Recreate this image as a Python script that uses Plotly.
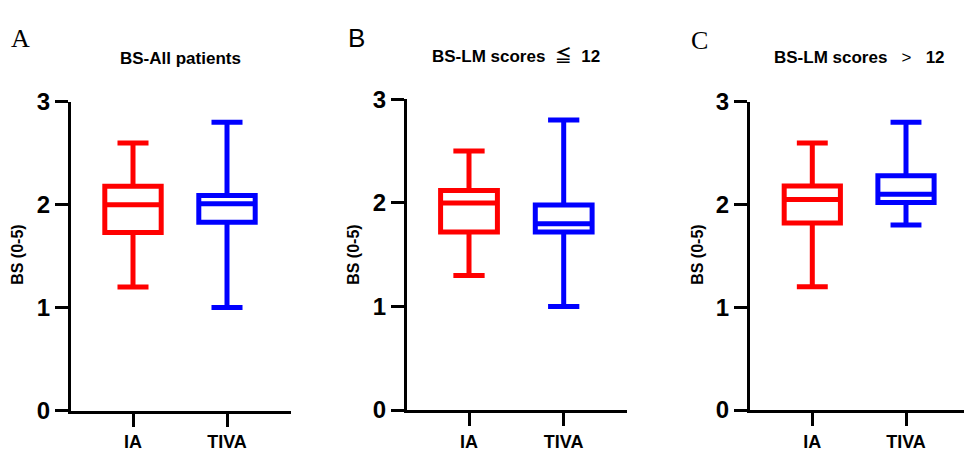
import plotly.graph_objects as go

groups = ["IA", "TIVA"]
colors = ["#FF0000", "#0000FF"]
panel_titles = ["BS-All patients",
                "BS-LM scores\u00a0\u00a0≦\u00a0\u00a012",
                "BS-LM scores\u00a0\u00a0\u00a0<span style='font-weight:normal'>&gt;</span>\u00a0\u00a0\u00a012"]
panel_letters = ["A", "B", "C"]
y_title = "BS (0-5)"
y_ticks = [0, 1, 2, 3]

# per panel: [IA, TIVA]
lower = [[1.2, 1.0], [1.3, 1.0], [1.2, 1.8]]
q1 = [[1.73, 1.83], [1.72, 1.72], [1.82, 2.02]]
median = [[2.0, 2.01], [2.0, 1.80], [2.05, 2.10]]
q3 = [[2.18, 2.09], [2.12, 1.98], [2.18, 2.28]]
upper = [[2.6, 2.8], [2.5, 2.8], [2.6, 2.8]]

W, H = 964, 456
# pixel layout per panel: (x_left, x_right, y_top(3), y_bottom(0), x_IA, spacing)
px = [
    (71, 291, 93.3, 421.5, 133, 94),
    (407, 627, 90.7, 421, 469, 94.7),
    (750, 964, 93.3, 421, 812.3, 93.7),
]
letter_pos = [(20, 26, "Liberation Serif"), (356, 25, "Liberation Sans"), (699, 28, "Liberation Serif")]
title_pos = [(180, 47), (516, 45), (859, 46)]
ytitle_x = [18, 354, 698]

fig = go.Figure()
for i in range(3):
    xl, xr, yt, yb, xia, sp = px[i]
    sfx = "" if i == 0 else str(i + 1)
    for j, g in enumerate(groups):
        fig.add_trace(go.Box(
            x=[g], q1=[q1[i][j]], median=[median[i][j]], q3=[q3[i][j]],
            lowerfence=[lower[i][j]], upperfence=[upper[i][j]],
            xaxis="x" + sfx, yaxis="y" + sfx,
            line=dict(color=colors[j], width=5), fillcolor="white",
            width=0.6, whiskerwidth=0.55, boxpoints=False, showlegend=False,
        ))
    xr_lo = (xl - xia) / sp
    xr_hi = (xr - xia) / sp
    fig.update_layout(**{
        "xaxis" + sfx: dict(
            domain=[xl / W, xr / W], anchor="y" + sfx, type="category",
            categoryorder="array", categoryarray=groups,
            range=[xr_lo, xr_hi], showline=True, linewidth=3, linecolor="black",
            ticks="outside", ticklen=13, tickwidth=3, tickcolor="black",
            showgrid=False, zeroline=False,
            tickfont=dict(family="Liberation Sans", size=18, color="black", weight="bold"),
        ),
        "yaxis" + sfx: dict(
            domain=[(H - yb) / H, (H - yt) / H], anchor="x" + sfx,
            range=[0, 3], tickvals=y_ticks, showline=True, linewidth=3, linecolor="black",
            ticks="outside", ticklen=13, tickwidth=3, tickcolor="black",
            showgrid=False, zeroline=False,
            tickfont=dict(family="Liberation Sans", size=24, color="black", weight="bold"),
        ),
    })
    lx, ly, lf = letter_pos[i]
    fig.add_annotation(x=lx / W, y=1 - ly / H, xref="paper", yref="paper",
                       text=panel_letters[i], showarrow=False,
                       xanchor="center", yanchor="middle",
                       font=dict(family=lf, size=26, color="black"))
    tx, ty = title_pos[i]
    fig.add_annotation(x=tx / W, y=1 - ty / H, xref="paper", yref="paper",
                       text=panel_titles[i], showarrow=False,
                       xanchor="center", yanchor="middle",
                       font=dict(family="Liberation Sans, Noto Sans CJK SC", size=17,
                                 color="black", weight="bold"))
    fig.add_annotation(x=ytitle_x[i] / W, y=1 - 256 / H, xref="paper", yref="paper",
                       text=y_title, showarrow=False, textangle=-90,
                       xanchor="center", yanchor="middle",
                       font=dict(family="Liberation Sans", size=16, color="black", weight="bold"))

fig.update_layout(
    width=W, height=H, margin=dict(l=0, r=0, t=0, b=0),
    paper_bgcolor="white", plot_bgcolor="white", boxmode="overlay",
)
fig.write_html("out.html", config={"displayModeBar": False},
               post_script="document.body.style.margin='0';document.body.style.overflow='hidden';")
